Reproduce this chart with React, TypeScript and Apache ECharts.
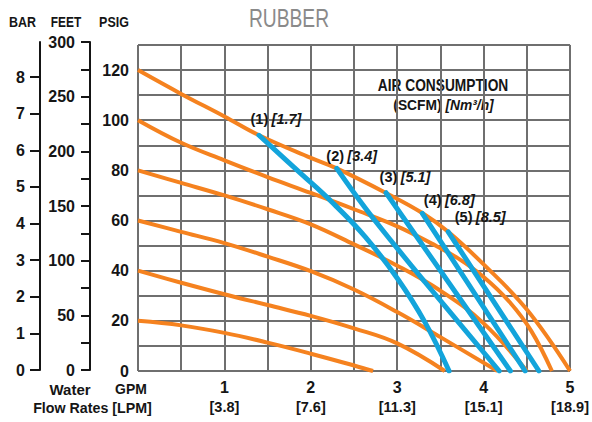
import React, { useEffect, useRef } from "react";
import * as echarts from "echarts";

const FONT = "'Liberation Sans', Arial, sans-serif";
const ORANGE = "#F5821F";
const BLUE = "#13A4DB";
const GRID = "#6f6f6f";
const INK = "#151515";

// Axis ticks / labels
const gpmTicks = [1, 2, 3, 4, 5];
const lpmTicks = ["3.8", "7.6", "11.3", "15.1", "18.9"];
const psigTicks = [0, 20, 40, 60, 80, 100, 120];
const feetTicks = [0, 50, 100, 150, 200, 250, 300];
const feetMinorTicks = [0, 25, 50, 75, 100, 125, 150, 175, 200, 225, 250, 275, 300];
const barTicks = [0, 1, 2, 3, 4, 5, 6, 7, 8];

// Discharge pressure curves [GPM, PSIG] (orange)
const curve120 = [[0, 120], [0.5, 110.5], [1, 101.5], [1.4, 94], [2, 85], [2.3, 80.8], [2.87, 71], [3.29, 63], [3.59, 55.5], [4, 42.5], [4.5, 24.5], [5, 0]];
const curve100 = [[0, 100], [0.5, 91], [1, 84], [1.5, 77.3], [2, 71], [2.5, 64.5], [3, 57.7], [3.4, 50.8], [3.7, 45], [4, 37.5], [4.3, 27.5], [4.55, 16], [4.79, 0]];
const curve80 = [[0, 80], [0.5, 75], [1, 70], [1.5, 64.5], [2, 58.5], [2.5, 50.5], [3, 42], [3.5, 32], [4, 19], [4.5, 0]];
const curve60 = [[0, 60], [0.5, 55.5], [1, 51], [1.5, 45.6], [2, 39.8], [2.5, 32.5], [3, 23.5], [3.5, 13.5], [4.16, 0]];
const curve40 = [[0, 40], [0.5, 35.2], [1, 30.6], [1.5, 26.3], [2, 22], [2.5, 17], [3, 11], [3.55, 0]];
const curve20 = [[0, 20], [0.5, 18.2], [1, 15.2], [1.5, 11.3], [2, 6.9], [2.5, 2.2], [2.72, 0]];

// Air consumption curves [GPM, PSIG] (blue)
const airScfm = ["1", "2", "3", "4", "5"];
const airNm3h = ["1.7", "3.4", "5.1", "6.8", "8.5"];
const air1 = [[1.4, 94], [1.86, 79.5], [2.24, 67.5], [2.63, 53.5], [3, 37], [3.32, 19.5], [3.6, 0]];
const air2 = [[2.3, 80.8], [2.63, 65], [3.01, 48.5], [3.32, 35.5], [4.18, 0]];
const air3 = [[2.87, 71.1], [4.31, 0]];
const air4 = [[3.29, 62.9], [4.48, 0]];
const air5 = [[3.59, 55.5], [4.64, 0]];

const pressureCurves = [curve120, curve100, curve80, curve60, curve40, curve20];
const airCurves = [air1, air2, air3, air4, air5];
const airLabelOffsets = [[17, -3], [15, 1], [19, -3], [27, 0], [32, -2]];

const labelRich = {
  a: { fontFamily: FONT, fontSize: 14.5, fontWeight: "bold", color: INK },
  b: { fontFamily: FONT, fontSize: 14.5, fontWeight: "bold", fontStyle: "italic", color: INK },
};

function buildOption() {
  const bold16 = { fontFamily: FONT, fontSize: 16, fontWeight: "bold", color: INK };
  const orangeSeries = pressureCurves.map((d) => ({
    type: "line",
    xAxisIndex: 0,
    yAxisIndex: 0,
    data: d,
    smooth: 0.4,
    showSymbol: false,
    symbol: "none",
    silent: true,
    lineStyle: { color: ORANGE, width: 4 },
    z: 3,
  }));
  const blueSeries = airCurves.map((d, k) => ({
    type: "line",
    xAxisIndex: 0,
    yAxisIndex: 0,
    smooth: 0.4,
    symbol: "circle",
    symbolSize: 1,
    showSymbol: true,
    silent: true,
    itemStyle: { color: "rgba(0,0,0,0)" },
    lineStyle: { color: BLUE, width: 5, cap: "round" },
    z: 4,
    data: d.map((p, i) =>
      i === 0
        ? {
            value: p,
            label: {
              show: true,
              position: "top",
              offset: airLabelOffsets[k],
              formatter: `{a|(${airScfm[k]})} {b|[${airNm3h[k]}]}`,
              rich: labelRich,
            },
          }
        : p
    ),
  }));

  const text = (t: string, x: number, y: number, extra: any = {}, scaleX = 1) => ({
    type: "text",
    x,
    y,
    scaleX,
    silent: true,
    style: {
      text: t,
      fontFamily: FONT,
      fontSize: 15,
      fontWeight: "bold",
      fill: INK,
      align: "center",
      verticalAlign: "middle",
      ...extra,
    },
  });

  return {
    animation: false,
    backgroundColor: "#ffffff",
    grid: [
      { left: 138, top: 45, width: 435, height: 326 },
      { left: 90, top: 42, width: 1, height: 328 },
      { left: 40, top: 42, width: 1, height: 328 },
    ],
    xAxis: [
      {
        gridIndex: 0,
        type: "value",
        min: 0,
        max: 5,
        interval: 0.5,
        axisLine: { show: false },
        axisTick: { show: false },
        splitLine: { show: true, lineStyle: { color: GRID, width: 2 } },
        axisLabel: {
          customValues: gpmTicks,
          margin: 6,
          formatter: (v: number) => {
            const i = gpmTicks.indexOf(Math.round(v));
            return `{g|${Math.round(v)}}\n{l|[${lpmTicks[i]}]}`;
          },
          rich: {
            g: { ...bold16, lineHeight: 20 },
            l: { ...bold16, fontSize: 14.5, lineHeight: 20 },
          },
        },
      },
      { gridIndex: 1, type: "value", show: false, min: 0, max: 1 },
      { gridIndex: 2, type: "value", show: false, min: 0, max: 1 },
    ],
    yAxis: [
      {
        gridIndex: 0,
        type: "value",
        min: 0,
        max: 130,
        interval: 10,
        axisLine: { show: false },
        axisTick: { show: false },
        splitLine: { show: true, lineStyle: { color: GRID, width: 2 } },
        axisLabel: { customValues: psigTicks, margin: 9, ...bold16 },
      },
      {
        gridIndex: 1,
        type: "value",
        min: 0,
        max: 300,
        splitLine: { show: false },
        axisLine: { show: true, lineStyle: { color: INK, width: 2 } },
        axisTick: { show: true, customValues: feetMinorTicks, length: 9, lineStyle: { color: INK, width: 2 } },
        axisLabel: { customValues: feetTicks, margin: 15, ...bold16 },
      },
      {
        gridIndex: 2,
        type: "value",
        min: 0,
        max: 8.96,
        splitLine: { show: false },
        axisLine: { show: true, lineStyle: { color: INK, width: 2 } },
        axisTick: { show: true, customValues: barTicks, length: 10, lineStyle: { color: INK, width: 2 } },
        axisLabel: { customValues: barTicks, margin: 15, ...bold16 },
      },
    ],
    graphic: [
      text("RUBBER", 289, 19, { fontSize: 25, fontWeight: "normal", fill: "#8a8a8a" }, 0.77),
      text("BAR", 22.5, 22, { fontSize: 14.5 }, 0.86),
      text("FEET", 66, 22, { fontSize: 14.5 }, 0.82),
      text("PSIG", 114, 22, { fontSize: 14.5 }, 0.86),
      text("Water", 70, 389, { fontSize: 15.5 }, 0.97),
      text("GPM", 131, 389, { fontSize: 15.5 }, 0.9),
      text("Flow Rates [LPM]", 92.5, 408, { fontSize: 15.5 }, 0.92),
      text("AIR CONSUMPTION", 443, 85, { fontSize: 16 }, 0.86),
      {
        type: "text",
        x: 443.5,
        y: 105,
        scaleX: 0.92,
        silent: true,
        style: {
          text: "{a|(SCFM)} {b|[Nm³/h]}",
          align: "center",
          verticalAlign: "middle",
          fontFamily: FONT,
          fontSize: 15,
          fontWeight: "bold",
          fill: INK,
          rich: {
            a: { ...labelRich.a, fontSize: 15 },
            b: { ...labelRich.b, fontSize: 15 },
          },
        },
      },
    ],
    series: [...orangeSeries, ...blueSeries],
  };
}

export default function App() {
  const ref = useRef<HTMLDivElement>(null);
  useEffect(() => {
    if (!ref.current) return;
    const chart = echarts.init(ref.current, null, { renderer: "svg" });
    chart.setOption(buildOption() as any);
    return () => chart.dispose();
  }, []);
  return (
    <div
      ref={ref}
      style={{ position: "fixed", left: 0, top: 0, width: 592, height: 422, background: "#fff" }}
    />
  );
}
